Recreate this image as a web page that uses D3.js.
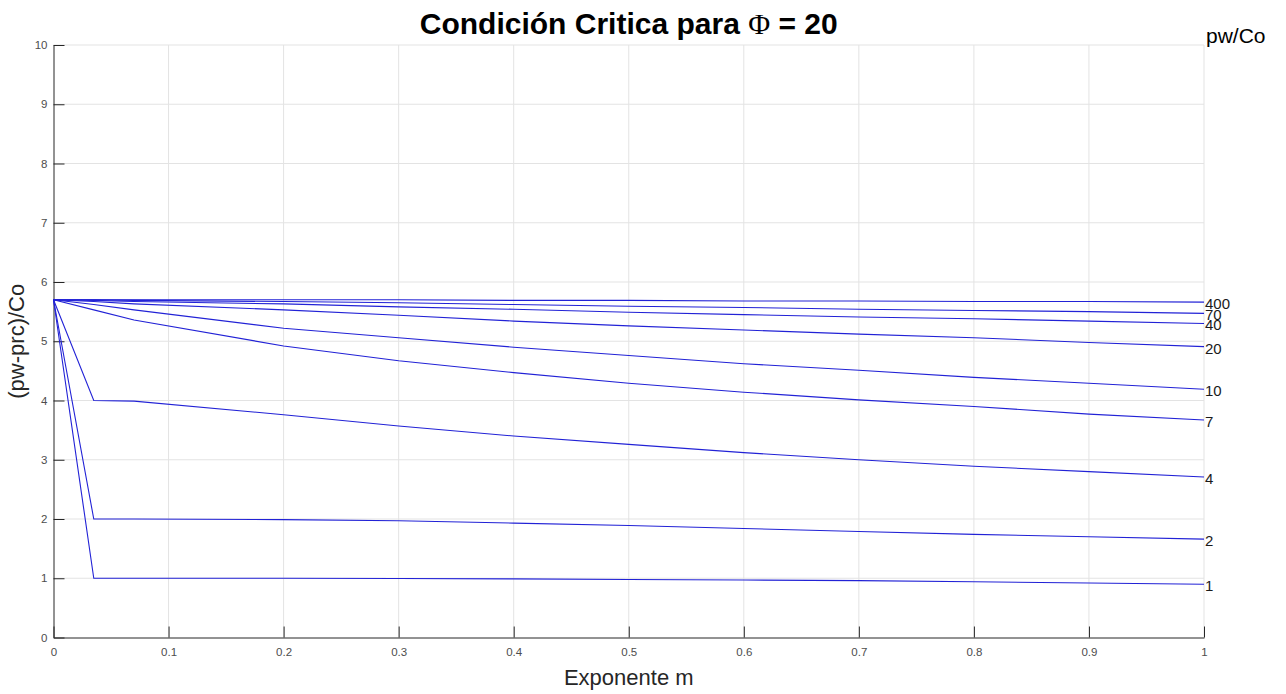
<!DOCTYPE html>
<html>
<head>
<meta charset="utf-8">
<script src="https://cdn.jsdelivr.net/npm/d3@7"></script>
<style>
  html, body { margin: 0; padding: 0; background: #fff; }
  svg { display: block; font-family: "Liberation Sans", Arial, Helvetica, sans-serif; }
</style>
</head>
<body>
<svg id="chart" width="1286" height="694"></svg>
<script>
// ---- data ----
const mValues = [0, 0.035, 0.07, 0.2, 0.3, 0.4, 0.5, 0.6, 0.7, 0.8, 0.9, 1.0];
const seriesLabels = ["400", "70", "40", "20", "10", "7", "4", "2", "1"];
const s400 = [5.70, 5.70, 5.70, 5.70, 5.70, 5.69, 5.69, 5.68, 5.68, 5.67, 5.67, 5.66];
const s70  = [5.70, 5.70, 5.69, 5.67, 5.65, 5.62, 5.59, 5.57, 5.54, 5.52, 5.50, 5.47];
const s40  = [5.70, 5.69, 5.67, 5.63, 5.58, 5.54, 5.49, 5.45, 5.41, 5.38, 5.34, 5.30];
const s20  = [5.70, 5.67, 5.63, 5.53, 5.44, 5.34, 5.26, 5.19, 5.12, 5.06, 4.98, 4.91];
const s10  = [5.70, 5.62, 5.53, 5.22, 5.06, 4.90, 4.76, 4.62, 4.51, 4.39, 4.29, 4.19];
const s7   = [5.70, 5.53, 5.36, 4.92, 4.67, 4.47, 4.29, 4.14, 4.01, 3.90, 3.77, 3.67];
const s4   = [5.70, 4.00, 3.99, 3.76, 3.57, 3.40, 3.26, 3.12, 3.00, 2.89, 2.80, 2.71];
const s2   = [5.70, 2.00, 2.00, 1.99, 1.97, 1.93, 1.89, 1.84, 1.79, 1.74, 1.70, 1.66];
const s1   = [5.70, 1.00, 1.00, 1.00, 0.995, 0.99, 0.98, 0.97, 0.96, 0.94, 0.92, 0.90];
const seriesValues = [s400, s70, s40, s20, s10, s7, s4, s2, s1];
const xTicks = [0, 0.1, 0.2, 0.3, 0.4, 0.5, 0.6, 0.7, 0.8, 0.9, 1];
const yTicks = [0, 1, 2, 3, 4, 5, 6, 7, 8, 9, 10];
const titleMain = "Condición Critica para ";
const titleSym = "Φ";
const titleTail = " = 20";
const xLabel = "Exponente m";
const yLabel = "(pw-prc)/Co";
const legendTitle = "pw/Co";

// ---- layout ----
const svg = d3.select("#chart");
const L = 53.5, R = 1204, T = 45, B = 637.5;
const x = d3.scaleLinear().domain([0, 1]).range([L, R]);
const y = d3.scaleLinear().domain([0, 10]).range([B, T]);

// grid
const grid = svg.append("g");
grid.selectAll("line.gx").data(xTicks.filter(d => d > 0)).enter().append("line")
  .attr("x1", d => x(d)).attr("x2", d => x(d)).attr("y1", T).attr("y2", B)
  .attr("stroke", "#e3e3e3").attr("stroke-width", 1);
grid.selectAll("line.gy").data(yTicks.filter(d => d > 0)).enter().append("line")
  .attr("x1", L).attr("x2", R).attr("y1", d => y(d)).attr("y2", d => y(d))
  .attr("stroke", "#e3e3e3").attr("stroke-width", 1);

// axes
const xAxis = d3.axisBottom(x).tickValues(xTicks).tickFormat(d3.format("~g"))
  .tickSizeInner(-11).tickSizeOuter(0).tickPadding(10);
const gx = svg.append("g").attr("transform", `translate(0,${B})`).call(xAxis);
gx.select(".domain").attr("stroke", "#262626");
gx.selectAll(".tick line").attr("stroke", "#262626");
gx.selectAll(".tick text").attr("fill", "#4d4d4d").attr("font-size", 11.5)
  .attr("font-family", "Liberation Sans, Arial, sans-serif");

const yAxis = d3.axisLeft(y).tickValues(yTicks).tickFormat(d3.format("~g"))
  .tickSizeInner(-11).tickSizeOuter(0).tickPadding(6);
const gy = svg.append("g").attr("transform", `translate(${L},0)`).call(yAxis);
gy.select(".domain").attr("stroke", "#262626");
gy.selectAll(".tick line").attr("stroke", "#262626");
gy.selectAll(".tick text").attr("fill", "#4d4d4d").attr("font-size", 11.5)
  .attr("font-family", "Liberation Sans, Arial, sans-serif");

// lines
const line = d3.line().x((d, i) => x(mValues[i])).y(d => y(d));
svg.append("g").selectAll("path").data(seriesValues).enter().append("path")
  .attr("d", d => line(d)).attr("fill", "none")
  .attr("stroke", "#2222d6").attr("stroke-width", 1.1);

// curve labels
svg.append("g").selectAll("text").data(seriesValues).enter().append("text")
  .attr("x", x(1) + 1)
  .attr("y", d => y(d[d.length - 1]) + 7)
  .attr("font-size", 15).attr("fill", "#1a1a1a")
  .text((d, i) => seriesLabels[i]);

// title
const t = svg.append("text").attr("x", (L + R) / 2).attr("y", 34)
  .attr("text-anchor", "middle").attr("font-size", 30).attr("font-weight", "bold")
  .attr("fill", "#000");
t.append("tspan").text(titleMain);
t.append("tspan").attr("font-family", "Liberation Serif, Times New Roman, serif")
  .attr("font-weight", "normal").text(titleSym);
t.append("tspan").text(titleTail);

// axis labels
svg.append("text").attr("x", (L + R) / 2).attr("y", 685)
  .attr("text-anchor", "middle").attr("font-size", 22).attr("fill", "#262626").text(xLabel);
svg.append("text").attr("transform", `translate(24,${(T + B) / 2}) rotate(-90)`)
  .attr("text-anchor", "middle").attr("font-size", 22).attr("fill", "#262626").text(yLabel);

// legend title
svg.append("text").attr("x", 1206).attr("y", 43)
  .attr("font-size", 21).attr("fill", "#000").text(legendTitle);
</script>
</body>
</html>
